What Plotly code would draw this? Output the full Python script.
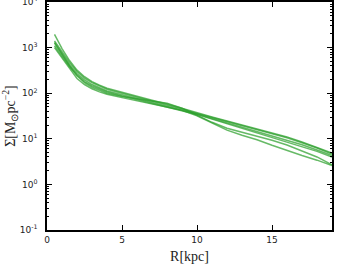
import plotly.graph_objects as go

R = [0.5, 1, 1.5, 2, 2.5, 3, 3.5, 4, 5, 6, 7, 8, 9, 10, 11, 12, 13, 14, 15, 16, 17, 18, 19]

A1 = [1950, 950, 520, 320, 230, 180, 150, 128, 105, 85, 70, 58, 46, 37, 30, 24.5, 20, 16.5, 13.5, 11, 8.5, 6.5, 4.9]
A2 = [1400, 820, 470, 300, 215, 170, 142, 122, 100, 82, 68, 57, 45, 36, 29.5, 24, 19.5, 16, 13, 10.5, 8.2, 6.3, 4.6]
A3 = [1300, 740, 420, 270, 195, 155, 130, 112, 92, 76, 62, 52, 43, 35, 28, 22.5, 18, 14.5, 11.5, 9.3, 7.4, 5.7, 4.3]
A4 = [1100, 650, 380, 250, 180, 145, 122, 106, 87, 72, 60, 50, 41, 34, 27, 21.5, 17, 13.5, 10.8, 8.6, 6.8, 5.3, 4.0]
B1 = [1250, 700, 400, 240, 170, 135, 115, 100, 85, 75, 68, 60, 47, 33, 23, 17, 14, 11.5, 9.3, 7.3, 5.5, 4.0, 2.7]
B2 = [1000, 600, 340, 210, 155, 125, 107, 95, 80, 68, 58, 50, 42, 32, 22, 15.5, 12, 9.5, 7.2, 5.5, 4.3, 3.4, 2.6]

profiles = [A1, A2, A3, A4, B1, B2]

x_ticks = [0, 5, 10, 15]
y_tickvals = [0.1, 1, 10, 100, 1000, 10000]
y_ticktext = ["10<sup>-1</sup>", "10<sup>0</sup>", "10<sup>1</sup>", "10<sup>2</sup>", "10<sup>3</sup>", "10<sup>4</sup>"]
y_minor = [m * d for d in y_tickvals[:-1] for m in range(2, 10)]

fig = go.Figure()
for p in profiles:
    fig.add_trace(go.Scatter(x=R, y=p, mode="lines",
                             line=dict(color="#2ca02c", width=1.5),
                             opacity=0.72, showlegend=False, hoverinfo="skip"))

fig.update_layout(
    width=343, height=278,
    margin=dict(l=47, r=11, t=2, b=48),
    paper_bgcolor="white", plot_bgcolor="white",
    font=dict(family="DejaVu Sans", size=9, color="#222"),
)
fig.update_xaxes(
    range=[0, 19], tickvals=x_ticks, ticktext=[str(v) for v in x_ticks],
    automargin=False,
    showgrid=False, zeroline=False, showline=True, linecolor="black", linewidth=1.5,
    mirror="ticks", ticks="inside", ticklen=5, tickcolor="black", tickwidth=1,
    title=dict(text="R[kpc]", font=dict(family="Liberation Serif", size=14, color="#222"), standoff=8),
)
fig.update_yaxes(
    type="log", range=[-1, 4], tickvals=y_tickvals, ticktext=y_ticktext,
    automargin=False, ticklabeloverflow="allow",
    showgrid=False, zeroline=False, showline=True, linecolor="black", linewidth=1.5,
    mirror="ticks", ticks="inside", ticklen=5, tickcolor="black", tickwidth=1,
    ticklabelstandoff=6,
    minor=dict(ticks="inside", ticklen=2.5, tickcolor="black", tickwidth=0.8,
               tickvals=y_minor, showgrid=False),
    title=dict(text="Σ[M<sub>⊙</sub>pc<sup>−2</sup>]", font=dict(family="Liberation Serif", size=14, color="#222"), standoff=10),
)

fig.write_html("out.html", config={"displayModeBar": False},
               post_script="document.body.style.margin='0';document.body.style.overflow='hidden';")
